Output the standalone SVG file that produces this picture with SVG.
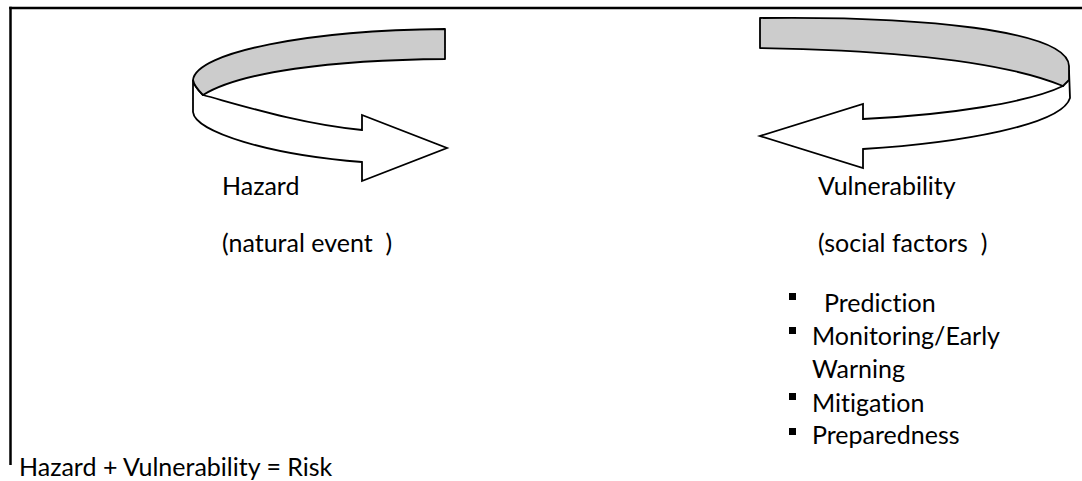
<svg xmlns="http://www.w3.org/2000/svg" width="1082" height="481" viewBox="0 0 1082 481">
  <style>
    .frame { fill: none; stroke: #000; stroke-width: 2.5; }
    .band-top { fill: #cccccc; stroke: #000; stroke-width: 1.8; stroke-linejoin: round; }
    .band-front { fill: #ffffff; stroke: #000; stroke-width: 1.8; stroke-linejoin: miter; }
    .lbl { font-family: Lato, "Open Sans", sans-serif; font-size: 25px; fill: #000; white-space: pre; font-variant-ligatures: none; }
    .bullet { fill: #000; }
  </style>

  <rect width="1082" height="481" fill="#ffffff"/>

  <!-- frame: top rule and left rule -->
  <g id="frame">
    <line class="frame" x1="9.25" y1="8" x2="1082" y2="8"/>
    <line class="frame" x1="10.5" y1="6.75" x2="10.5" y2="465"/>
  </g>

  <g id="connectors">
    <!-- left curved arrow (points right) -->
    <g id="arrow-left">
      <path class="band-front" d="M193,80 L193,112 C195,132 270,155 362,162 L362,181 L447,148 L362,115 L362,130 C300,124 240,105 203,95 C199,91 194,86 193,80 Z"/>
      <path class="band-top" d="M193,80 C196,52 310,30 445,29 L445,59 C330,60 240,72 203,95 C199,91 194,86 193,80 Z"/>
    </g>
    <!-- right curved arrow (points left) -->
    <g id="arrow-right">
      <path class="band-front" d="M1069,70 L1070,98 C1062,125 960,143 863,149 L863,168 L760,136 L863,104 L863,119 C950,115 1030,102 1063,86 Z"/>
      <path class="band-top" d="M760,18 C920,16 1068,30 1069,66 L1069,80 L1063,86 C1000,60 880,50 760,48 Z"/>
    </g>
  </g>

  <g id="hazard">
    <text class="lbl" x="222" y="195">Hazard</text>
    <text class="lbl" x="222" y="252">(natural event  )</text>
  </g>

  <g id="vulnerability">
    <text class="lbl" x="818" y="195">Vulnerability</text>
    <text class="lbl" x="818" y="252">(social factors  )</text>
  </g>

  <g id="measures">
    <rect class="bullet" x="789" y="293" width="7" height="7"/>
    <text class="lbl" x="824" y="311.5">Prediction</text>
    <rect class="bullet" x="789" y="327" width="7" height="7"/>
    <text class="lbl" x="812" y="345">Monitoring/Early</text>
    <text class="lbl" x="812" y="378">Warning</text>
    <rect class="bullet" x="789" y="393" width="7" height="7"/>
    <text class="lbl" x="812" y="412">Mitigation</text>
    <rect class="bullet" x="789" y="428" width="7" height="7"/>
    <text class="lbl" x="812" y="444">Preparedness</text>
  </g>

  <g id="equation">
    <text class="lbl" x="19" y="476">Hazard + Vulnerability = Risk</text>
  </g>
</svg>
